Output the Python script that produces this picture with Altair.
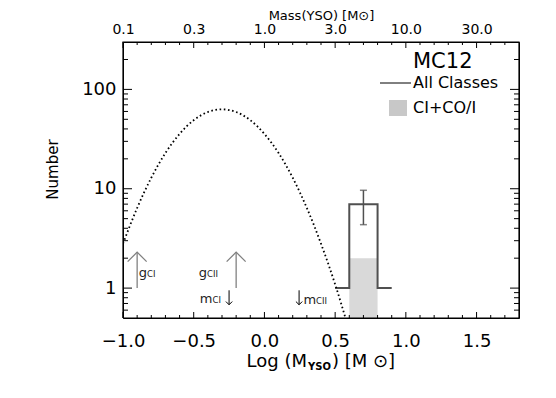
import json
import math
import altair as alt
import pandas as pd

# ---------------- data ----------------
X_DOMAIN = [-1.0, 1.8]
Y_DOMAIN = [0.5, 300]

# dotted IMF curve
CURVE_X = [-1.0, -0.9, -0.8, -0.7, -0.6, -0.5, -0.4, -0.3, -0.2, -0.1,
           0.0, 0.1, 0.2, 0.3, 0.4, 0.5, 0.6]
CURVE_N = [2.8, 6.4, 12.9, 22.9, 35.6, 49.0, 59.2, 63.0, 59.2, 49.0,
           35.6, 22.9, 12.9, 6.4, 2.8, 1.09, 0.37]

# histogram "All Classes"
HIST_LO = [0.5, 0.6, 0.8]
HIST_HI = [0.6, 0.8, 0.9]
HIST_N = [1, 7, 1]

# histogram "CI+CO/I"
CLS_LO = [0.6]
CLS_HI = [0.8]
CLS_N = [2]

# error bar
ERR_X = [0.7]
ERR_N = [7]
ERR_SIG = [2.65]

# mass-limit arrows
G_ARROW_X = [-0.9, -0.2]
G_ARROW_FROM = 1.0
G_ARROW_TO = 2.3
M_ARROW_X = [-0.25, 0.245]
M_ARROW_FROM = 0.95
M_ARROW_TO = 0.68

LABEL_MAIN = ["g", "g", "m", "m"]
LABEL_SUB = ["CI", "CII", "CI", "CII"]
LABEL_X = [-0.830, -0.406, -0.367, 0.365]
LABEL_Y = [1.29, 1.29, 0.71, 0.69]

# axes
X_MAJOR = [-1.0, -0.5, 0.0, 0.5, 1.0, 1.5]
X_MINOR = [-0.9, -0.8, -0.7, -0.6, -0.4, -0.3, -0.2, -0.1, 0.1, 0.2, 0.3, 0.4,
           0.6, 0.7, 0.8, 0.9, 1.1, 1.2, 1.3, 1.4, 1.6, 1.7]
TOP_LABELS = ["0.1", "0.3", "1.0", "3.0", "10.0", "30.0"]
Y_MAJOR = [1, 10, 100]
Y_MINOR = [0.6, 0.7, 0.8, 0.9, 2, 3, 4, 5, 6, 7, 8, 9,
           20, 30, 40, 50, 60, 70, 80, 90, 200]

PANEL_NAME = "MC12"
SERIES_NAMES = ["All Classes", "CI+CO/I"]
X_TITLE_PARTS = ["Log (M", "YSO", ") [M \u2299]"]
TOP_TITLE = "Mass(YSO) [M\u2299]"
Y_TITLE = "Number"

# ---------------- tables ----------------
curve_df = pd.DataFrame({"x": CURVE_X, "n": CURVE_N})
step_df = pd.DataFrame({"x": HIST_LO + [HIST_HI[-1]], "n": HIST_N + [HIST_N[-1]]})
cls_df = pd.DataFrame({"lo": CLS_LO, "hi": CLS_HI, "n": CLS_N})
err_df = pd.DataFrame({"x": ERR_X,
                       "lo": [n - s for n, s in zip(ERR_N, ERR_SIG)],
                       "hi": [n + s for n, s in zip(ERR_N, ERR_SIG)]})
cap_df = pd.DataFrame({"x": ERR_X * 2, "y": list(err_df["lo"]) + list(err_df["hi"])})
g_df = pd.DataFrame({"x": G_ARROW_X, "y0": [G_ARROW_FROM] * len(G_ARROW_X),
                     "y1": [G_ARROW_TO] * len(G_ARROW_X)})
m_df = pd.DataFrame({"x": M_ARROW_X, "y0": [M_ARROW_FROM] * len(M_ARROW_X),
                     "y1": [M_ARROW_TO] * len(M_ARROW_X)})
lab_df = pd.DataFrame({"x": LABEL_X, "y": LABEL_Y, "main": LABEL_MAIN, "sub": LABEL_SUB})

FONT = "DejaVu Sans"
W, H = 396, 276
XS = alt.Scale(domain=X_DOMAIN, nice=False, zero=False)
YS = alt.Scale(type="log", domain=Y_DOMAIN, nice=False)

# pixel -> data conversion factors of the two scales (for tick lengths in pixels)
PX_PER_X = W / (X_DOMAIN[1] - X_DOMAIN[0])
PX_PER_DEC = H / math.log10(Y_DOMAIN[1] / Y_DOMAIN[0])

# frame polygon along the domain edges
frame_df = pd.DataFrame({
    "x": [X_DOMAIN[0], X_DOMAIN[1], X_DOMAIN[1], X_DOMAIN[0], X_DOMAIN[0]],
    "y": [Y_DOMAIN[0], Y_DOMAIN[0], Y_DOMAIN[1], Y_DOMAIN[1], Y_DOMAIN[0]],
    "o": [0, 1, 2, 3, 4]})

# inward tick segments
rows = []
k = 0
for vals, ln in ((X_MAJOR, 6), (X_MINOR, 3)):
    for v in vals:
        f = 10 ** (ln / PX_PER_DEC)
        rows += [{"id": k, "o": 0, "x": v, "y": Y_DOMAIN[0]},
                 {"id": k, "o": 1, "x": v, "y": Y_DOMAIN[0] * f}]
        k += 1
        rows += [{"id": k, "o": 0, "x": v, "y": Y_DOMAIN[1]},
                 {"id": k, "o": 1, "x": v, "y": Y_DOMAIN[1] / f}]
        k += 1
for vals, ln in ((Y_MAJOR, 9), (Y_MINOR, 5)):
    for v in vals:
        d = ln / PX_PER_X
        rows += [{"id": k, "o": 0, "x": X_DOMAIN[0], "y": v},
                 {"id": k, "o": 1, "x": X_DOMAIN[0] + d, "y": v}]
        k += 1
        rows += [{"id": k, "o": 0, "x": X_DOMAIN[1], "y": v},
                 {"id": k, "o": 1, "x": X_DOMAIN[1] - d, "y": v}]
        k += 1
tick_df = pd.DataFrame(rows)

common_lab = dict(ticks=False, domain=False, grid=False, labelFont=FONT,
                  labelColor="black", labelFlush=False, labelOverlap=False, labelBound=False)

ax_bottom_lab = alt.Axis(orient="bottom", values=X_MAJOR, format=".1f", labelFontSize=18,
                         labelPadding=28, labelBaseline="alphabetic", title=None, **common_lab)
ax_left_lab = alt.Axis(orient="left", values=Y_MAJOR, format="d", labelFontSize=18,
                       labelPadding=7, title=Y_TITLE, titleX=-71, titleY=127, titleAngle=270,
                       titleAlign="center", titleBaseline="middle", titleFont=FONT,
                       titleFontSize=15, titleFontWeight="normal", titleColor="black",
                       **common_lab)
label_expr = "{}[indexof({}, datum.value)]".format(json.dumps(TOP_LABELS), json.dumps(X_MAJOR))
ax_top_lab = alt.Axis(orient="top", values=X_MAJOR, labelExpr=label_expr, labelFontSize=14,
                      labelPadding=9, labelBaseline="alphabetic", title=TOP_TITLE,
                      titleX=W / 2, titleY=-23, titleBaseline="alphabetic", titleAlign="center",
                      titleFont=FONT, titleFontSize=13, titleFontWeight="normal",
                      titleColor="black", **common_lab)


def X(field, axis=None):
    return alt.X(field, type="quantitative", scale=XS, axis=axis)


def Y(field, axis=None):
    return alt.Y(field, type="quantitative", scale=YS, axis=axis)


bar = alt.Chart(cls_df).mark_rect(color="#d9d9d9").encode(
    x=X("lo", ax_bottom_lab), x2="hi",
    y=Y("n", ax_left_lab), y2=alt.datum(Y_DOMAIN[0]))

frame = alt.Chart(frame_df).mark_line(color="black", strokeWidth=1.2).encode(
    x=X("x"), y=Y("y"), order="o:Q")

ticks = alt.Chart(tick_df).mark_line(color="black", strokeWidth=1).encode(
    x=X("x"), y=Y("y"), detail="id:N", order="o:Q")

step = alt.Chart(step_df).mark_line(interpolate="step-after", color="#505050",
                                    strokeWidth=2).encode(x=X("x"), y=Y("n"))

curve = alt.Chart(curve_df).mark_line(interpolate="monotone", color="black", strokeWidth=1.8,
                                      strokeDash=[1.6, 2.6], clip=True).encode(
    x=X("x"), y=Y("n"))

err = alt.Chart(err_df).mark_rule(color="#505050", strokeWidth=1.5).encode(
    x=X("x", ax_top_lab), y=Y("lo"), y2="hi")

caps = alt.Chart(cap_df).mark_tick(orient="horizontal", color="#505050", size=7,
                                   thickness=1.5).encode(x=X("x"), y=Y("y"))

g_rule = alt.Chart(g_df).mark_rule(color="#808080", strokeWidth=1.3).encode(
    x=X("x"), y=Y("y0"), y2="y1")
g_head = alt.Chart(g_df).mark_point(shape="M-1,1L0,0L1,1", size=361, filled=False,
                                    color="#808080", strokeWidth=1.3, opacity=1).encode(
    x=X("x"), y=Y("y1"))

m_rule = alt.Chart(m_df).mark_rule(color="black", strokeWidth=1).encode(
    x=X("x"), y=Y("y0"), y2="y1")
m_head = alt.Chart(m_df).mark_point(shape="M-1,-1L0,0L1,-1", size=40, filled=False,
                                    color="black", strokeWidth=1, opacity=1).encode(
    x=X("x"), y=Y("y1"))

lab_main = alt.Chart(lab_df).mark_text(align="right", baseline="alphabetic", font=FONT,
                                       fontSize=13, color="#222222").encode(
    x=X("x"), y=Y("y"), text="main")
lab_sub = alt.Chart(lab_df).mark_text(align="left", baseline="alphabetic", font=FONT,
                                      fontSize=8.5, color="#222222").encode(
    x=X("x"), y=Y("y"), text="sub")

# legend block (top right)
leg_title = alt.Chart(alt.Data(values=[{"t": PANEL_NAME}])).mark_text(
    align="left", baseline="alphabetic", font=FONT, fontSize=21, color="black").encode(
    x=alt.value(290), y=alt.value(26), text="t:N")
leg_line = alt.Chart(alt.Data(values=[{"t": 0}])).mark_rule(color="black", strokeWidth=1).encode(
    x=alt.value(257), x2=alt.value(288), y=alt.value(41))
leg_all = alt.Chart(alt.Data(values=[{"t": SERIES_NAMES[0]}])).mark_text(
    align="left", baseline="alphabetic", font=FONT, fontSize=16, color="black").encode(
    x=alt.value(290), y=alt.value(46), text="t:N")
leg_sq = alt.Chart(alt.Data(values=[{"t": 0}])).mark_rect(color="#c8c8c8").encode(
    x=alt.value(266), x2=alt.value(284), y=alt.value(58), y2=alt.value(74))
leg_cls = alt.Chart(alt.Data(values=[{"t": SERIES_NAMES[1]}])).mark_text(
    align="left", baseline="alphabetic", font=FONT, fontSize=16, color="black").encode(
    x=alt.value(290), y=alt.value(71), text="t:N")

# bottom axis title with subscript
xt1 = alt.Chart(alt.Data(values=[{"t": X_TITLE_PARTS[0]}])).mark_text(
    align="right", baseline="alphabetic", font=FONT, fontSize=18, color="black").encode(
    x=alt.value(184), y=alt.value(325), text="t:N")
xt2 = alt.Chart(alt.Data(values=[{"t": X_TITLE_PARTS[1]}])).mark_text(
    align="left", baseline="alphabetic", font=FONT, fontSize=10, fontWeight="bold",
    color="black").encode(x=alt.value(185), y=alt.value(328), text="t:N")
xt3 = alt.Chart(alt.Data(values=[{"t": X_TITLE_PARTS[2]}])).mark_text(
    align="left", baseline="alphabetic", font=FONT, fontSize=18, color="black").encode(
    x=alt.value(209), y=alt.value(325), text="t:N")

chart = alt.layer(
    bar, frame, ticks, step, curve, err, caps, g_rule, g_head, m_rule, m_head,
    lab_main, lab_sub, leg_title, leg_line, leg_all, leg_sq, leg_cls, xt1, xt2, xt3
).resolve_axis(x="independent", y="independent").properties(
    width=W, height=H,
    padding={"left": 115, "top": 34, "right": 29, "bottom": 60},
    autosize=alt.AutoSizeParams(type="none"),
    background="white",
).configure_view(stroke="black", strokeWidth=1)

chart.save("out.html", embed_options={"renderer": "svg", "actions": False})
